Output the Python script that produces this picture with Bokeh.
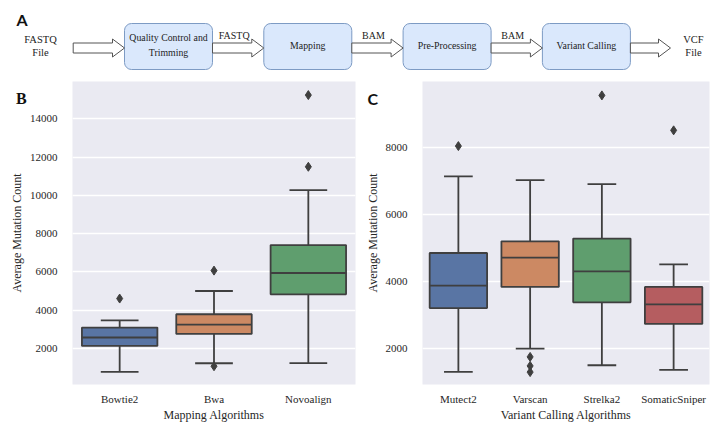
from bokeh.plotting import figure
from bokeh.layouts import column, row
from bokeh.models import ColumnDataSource, Range1d, FactorRange, SingleIntervalTicker
from bokeh.transform import dodge
from bokeh.core.properties import value
from bokeh.embed import file_html
from bokeh.resources import INLINE

# ---------------- data ----------------
flow_input = "FASTQ\nFile"
flow_output = "VCF\nFile"
flow_steps = ["Quality Control and\nTrimming", "Mapping", "Pre-Processing", "Variant Calling"]
flow_links = ["FASTQ", "BAM", "BAM"]
panel_letters = ["A", "B", "C"]

mapping_algorithms = ["Bowtie2", "Bwa", "Novoalign"]
mapping_lower = [780, 1230, 1240]
mapping_q1 = [2135, 2760, 4830]
mapping_median = [2575, 3250, 5945]
mapping_q3 = [3095, 3790, 7405]
mapping_upper = [3475, 5005, 10280]
mapping_outliers = [[4610], [1075, 6070], [11495, 15240]]

calling_algorithms = ["Mutect2", "Varscan", "Strelka2", "SomaticSniper"]
calling_lower = [1300, 2000, 1500, 1360]
calling_q1 = [3210, 3840, 3380, 2735]
calling_median = [3880, 4715, 4305, 3320]
calling_q3 = [4855, 5205, 5285, 3840]
calling_upper = [7145, 7030, 6915, 4515]
calling_outliers = [[8050], [1750, 1480, 1295], [9565], [8520]]

palette = ["#5975a4", "#cc8963", "#5f9e6e", "#b55d60"]

SERIF = value("Liberation Serif")
EDGE = "#3f3f3f"
OVERLAP = 40  # header canvas (transparent) reaches down over the top of the panels' margins

# ---------------- panel A: flowchart + panel letters ----------------
top_h = 73 + OVERLAP
top = figure(width=723, height=top_h, x_range=Range1d(0, 723), y_range=Range1d(top_h, 0),
             x_axis_location=None, y_axis_location=None, toolbar_location=None,
             output_backend="svg", min_border=0, outline_line_color=None,
             background_fill_alpha=0, border_fill_alpha=0,
             styles={"position": "relative", "z-index": "5"})
top.grid.visible = False

box_left0, box_pitch, box_w = 124.0, 139.3, 88.0
box_top, box_bot = 23.0, 69.0
arrow_y = 47.5
lefts = [box_left0 + i * box_pitch for i in range(len(flow_steps))]
rights = [l + box_w for l in lefts]
centers = [(l + r) / 2 for l, r in zip(lefts, rights)]

top.quad(left=lefts, right=rights, top=[box_top] * len(lefts), bottom=[box_bot] * len(lefts),
         fill_color="#dae8fc", line_color="#7d9bc4", line_width=1, border_radius=7)
top.text(x=centers, y=[(box_top + box_bot) / 2 - 1.5] * len(centers), text=flow_steps,
         text_font=SERIF, text_font_size="9.8px", text_align="center", text_baseline="middle",
         text_color="#222222", text_line_height=1.3)

arrow_starts = [72.7] + rights
arrow_ends = lefts + [670.0]
xs, ys = [], []
for x0, x1 in zip(arrow_starts, arrow_ends):
    hl = 12.0
    xs.append([x0, x1 - hl, x1 - hl, x1, x1 - hl, x1 - hl, x0])
    ys.append([arrow_y - 5, arrow_y - 5, arrow_y - 9, arrow_y, arrow_y + 9, arrow_y + 5, arrow_y + 5])
top.patches(xs, ys, fill_color="white", line_color="#555555", line_width=1)

link_x = [(rights[i] + lefts[i + 1]) / 2 - 4 for i in range(len(flow_links))]
top.text(x=link_x, y=[34.5] * len(link_x), text=flow_links, text_font=SERIF, text_font_size="10px",
         text_align="center", text_baseline="alphabetic", text_color="#222222")
top.text(x=[40, 693], y=[45.5, 45.5], text=[flow_input, flow_output], text_font=SERIF,
         text_font_size="10.5px", text_align="center", text_baseline="middle",
         text_color="#222222", text_line_height=1.2)
top.text(x=[16, 367], y=[19, 97.5], text=[panel_letters[0], panel_letters[2]],
         text_font=value("Lato"), text_font_style="bold", text_font_size="16px",
         text_align="left", text_baseline="alphabetic", text_color="#111111")
top.text(x=[15.5], y=[97.5], text=[panel_letters[1]], text_font=SERIF, text_font_style="bold",
         text_font_size="16px", text_align="left", text_baseline="alphabetic", text_color="#111111")


# ---------------- box plot helper ----------------
def boxplot(cats, lower, q1, med, q3, upper, outliers, yrange, xlabel, width, left, right, margin):
    p = figure(width=width, height=364, x_range=FactorRange(*cats, range_padding=0),
               y_range=Range1d(*yrange), toolbar_location=None, output_backend="svg",
               min_border_left=left, min_border_right=right, min_border_top=8, min_border_bottom=53,
               background_fill_color="#eaeaf2", border_fill_color="white", border_fill_alpha=0,
               outline_line_color=None, margin=margin)
    src = ColumnDataSource(dict(cat=cats, lower=lower, q1=q1, med=med, q3=q3, upper=upper,
                                color=palette[:len(cats)]))
    p.segment(x0="cat", y0="q3", x1="cat", y1="upper", source=src, line_color=EDGE, line_width=1.8)
    p.segment(x0="cat", y0="q1", x1="cat", y1="lower", source=src, line_color=EDGE, line_width=1.8)
    p.segment(x0=dodge("cat", -0.2, range=p.x_range), y0="upper",
              x1=dodge("cat", 0.2, range=p.x_range), y1="upper", source=src, line_color=EDGE, line_width=1.8)
    p.segment(x0=dodge("cat", -0.2, range=p.x_range), y0="lower",
              x1=dodge("cat", 0.2, range=p.x_range), y1="lower", source=src, line_color=EDGE, line_width=1.8)
    p.vbar(x="cat", width=0.8, bottom="q1", top="q3", source=src, fill_color="color",
           line_color=EDGE, line_width=1.8)
    p.segment(x0=dodge("cat", -0.4, range=p.x_range), y0="med",
              x1=dodge("cat", 0.4, range=p.x_range), y1="med", source=src, line_color=EDGE, line_width=1.8)
    ox = [c for c, outs in zip(cats, outliers) for _ in outs]
    oy = [v for outs in outliers for v in outs]
    p.scatter(ox, oy, marker="diamond", size=9, fill_color=EDGE, line_color=EDGE)

    p.xgrid.visible = False
    p.ygrid.grid_line_color = "white"
    p.ygrid.grid_line_width = 1.3
    p.yaxis.ticker = SingleIntervalTicker(interval=2000, num_minor_ticks=0)
    p.yaxis.formatter.use_scientific = False
    for ax in (p.xaxis[0], p.yaxis[0]):
        ax.axis_line_color = None
        ax.major_tick_line_color = None
        ax.minor_tick_line_color = None
        ax.major_label_text_font = "Liberation Serif"
        ax.major_label_text_font_size = "11px"
        ax.major_label_text_color = "#262626"
        ax.axis_label_text_font = "Liberation Serif"
        ax.axis_label_text_font_size = "12px"
        ax.axis_label_text_font_style = "normal"
        ax.axis_label_text_color = "#262626"
    p.xaxis.major_label_standoff = 2
    p.yaxis.major_label_standoff = 9
    p.xaxis.axis_label_standoff = 0
    p.yaxis.axis_label_standoff = 3
    p.xaxis.axis_label = xlabel
    p.yaxis.axis_label = "Average Mutation Count"
    return p


pB = boxplot(mapping_algorithms, mapping_lower, mapping_q1, mapping_median, mapping_q3,
             mapping_upper, mapping_outliers, (120, 15950), "Mapping Algorithms", 356, 62, 7,
             (0, 0, 0, 6))
pC = boxplot(calling_algorithms, calling_lower, calling_q1, calling_median, calling_q3,
             calling_upper, calling_outliers, (925, 9980), "Variant Calling Algorithms", 361, 55, 14,
             (0, 0, 0, 0))

bottom_row = row(pB, pC, margin=(-OVERLAP, 0, 0, 0))
layout = column(top, bottom_row)
open("out.html", "w").write(file_html(layout, INLINE))
